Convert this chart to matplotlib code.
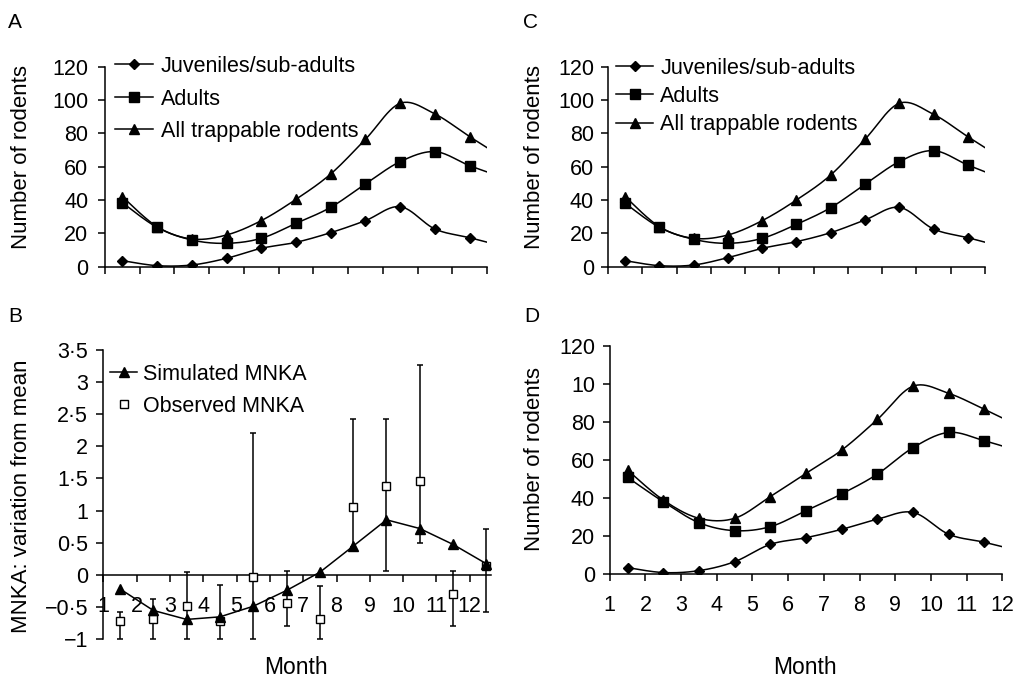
import numpy as np
import matplotlib
matplotlib.use('Agg')
from matplotlib import pyplot as plt

plt.rcParams['font.family'] = ['Liberation Sans', 'DejaVu Sans']

months = [1.5, 2.5, 3.5, 4.5, 5.5, 6.5, 7.5, 8.5, 9.5, 10.5, 11.5, 12.5]
month_ticks = list(range(1, 13))

# panel A
a_juv = [3.6, 0.6, 1.0, 5.0, 11.0, 14.6, 20.4, 27.6, 36.0, 22.6, 17.4, 12.0]
a_adu = [38.4, 23.6, 16.0, 14.0, 17.0, 26.0, 35.6, 49.6, 63.0, 69.0, 60.6, 53.2]
a_all = [42.0, 24.0, 16.6, 19.0, 27.6, 40.4, 55.6, 76.4, 98.0, 91.6, 78.0, 64.9]

# panel C
c_juv = [3.6, 0.6, 1.0, 5.4, 11.0, 15.0, 20.4, 28.0, 35.6, 22.6, 17.4, 12.0]
c_adu = [38.0, 23.6, 16.4, 14.0, 17.0, 25.4, 35.4, 49.4, 63.0, 69.6, 61.0, 52.9]
c_all = [42.0, 24.0, 17.0, 19.0, 27.6, 40.0, 55.0, 76.4, 98.0, 91.4, 78.0, 64.9]

# panel D
d_juv = [3.5, 0.9, 1.9, 6.6, 15.7, 19.2, 23.6, 28.9, 32.5, 21.0, 16.8, 12.1]
d_adu = [50.9, 38.1, 27.1, 22.9, 25.0, 33.4, 42.2, 52.6, 66.5, 74.5, 70.1, 64.5]
d_all = [54.7, 39.0, 29.4, 29.4, 40.8, 53.0, 65.2, 81.3, 98.8, 95.0, 86.6, 77.5]
d_ylabels = ['0', '20', '40', '60', '80', '10', '120']

# panel B
sim = [-0.22, -0.555, -0.695, -0.655, -0.49, -0.244, 0.04, 0.446, 0.856, 0.72, 0.472, 0.171]
obs = [-0.72, -0.686, -0.48, -0.727, -0.04, -0.445, -0.686, 1.053, 1.39, 1.455, -0.296, 0.14]
obs_hi = [-0.58, -0.37, 0.05, -0.16, 2.205, 0.056, -0.17, 2.42, 2.42, 3.27, 0.056, 0.716]
obs_lo = [-1.0, -1.0, -1.0, -1.0, -1.0, -0.79, -1.0, 0.44, 0.056, 0.49, -0.79, -0.58]
b_yticks = [-1, -0.5, 0, 0.5, 1, 1.5, 2, 2.5, 3, 3.5]
b_ylabels = ['\u22121', '\u22120\u00b75', '0', '0\u00b75', '1', '1\u00b75', '2', '2\u00b75', '3', '3\u00b75']

FS = 15.5
LW = 1.1


def smooth(x, y, n=25):
    # excel style smoothed line (bezier through the points)
    x = np.asarray(x, float)
    y = np.asarray(y, float)
    px = np.concatenate([[x[0]], x, [x[-1]]])
    py = np.concatenate([[y[0]], y, [y[-1]]])
    t = np.linspace(0, 1, n)
    xs, ys = [], []
    for i in range(len(x) - 1):
        p0 = np.array([px[i], py[i]])
        p1 = np.array([px[i + 1], py[i + 1]])
        p2 = np.array([px[i + 2], py[i + 2]])
        p3 = np.array([px[i + 3], py[i + 3]])
        c1 = p1 + (p2 - p0) / 6
        c2 = p2 - (p3 - p1) / 6
        b = ((1 - t) ** 3)[:, None] * p1 + (3 * (1 - t) ** 2 * t)[:, None] * c1 \
            + (3 * (1 - t) * t ** 2)[:, None] * c2 + (t ** 3)[:, None] * p2
        xs.append(b[:, 0])
        ys.append(b[:, 1])
    return np.concatenate(xs), np.concatenate(ys)


def style(ax, ypad):
    for s in ['top', 'right']:
        ax.spines[s].set_visible(False)
    for s in ['left', 'bottom']:
        ax.spines[s].set_linewidth(LW)
    ax.tick_params(direction='out', length=5, width=LW, labelsize=FS)
    ax.tick_params(axis='y', pad=ypad)
    ax.tick_params(axis='x', pad=10)


def rodents(ax, juv, adu, allr, ypad):
    for vals, mk, ms, lab in [(juv, 'D', 4.8, 'Juveniles/sub-adults'),
                              (adu, 's', 7, 'Adults'),
                              (allr, '^', 7.5, 'All trappable rodents')]:
        sx, sy = smooth(months, vals)
        ax.plot(sx, sy, color='black', lw=LW)
        ax.plot(months, vals, linestyle='none', marker=mk, ms=ms, color='black')
        ax.plot([], [], color='black', lw=LW, marker=mk, ms=ms, label=lab)
    ax.set_xlim(1, 12)
    ax.set_xticks(month_ticks)
    ax.set_ylim(0, 120)
    ax.set_yticks(range(0, 121, 20))
    style(ax, ypad)


fig = plt.figure(figsize=(10.16, 6.78), dpi=100)

axA = fig.add_axes([0.1033, 0.6067, 0.376, 0.295])
rodents(axA, a_juv, a_adu, a_all, 7)
axA.set_xticklabels([])
axA.legend(loc='upper left', bbox_to_anchor=(115 / 1016, 1 - 56 / 678),
           bbox_transform=fig.transFigure, frameon=False, fontsize=FS,
           borderpad=0, borderaxespad=0, handlelength=1.77, handletextpad=0.36,
           labelspacing=0.535)

axC = fig.add_axes([0.5984, 0.6067, 0.371, 0.295])
rodents(axC, c_juv, c_adu, c_all, 5)
axC.set_xticklabels([])
axC.legend(loc='upper left', bbox_to_anchor=(616 / 1016, 1 - 57.7 / 678),
           bbox_transform=fig.transFigure, frameon=False, fontsize=FS,
           borderpad=0, borderaxespad=0, handlelength=1.72, handletextpad=0.33,
           labelspacing=0.335)

axD = fig.add_axes([0.6001, 0.153, 0.3864, 0.337])
rodents(axD, d_juv, d_adu, d_all, 5.5)
axD.set_yticklabels(d_ylabels)

# panel B
axB = fig.add_axes([0.1017, 0.0575, 0.382, 0.4263])
lo = np.array(obs) - np.array(obs_lo)
hi = np.array(obs_hi) - np.array(obs)
axB.errorbar(months, obs, yerr=[lo, hi], fmt='none', ecolor='black',
             elinewidth=LW, capsize=2.5, capthick=LW, zorder=2)
axB.plot(months, obs, linestyle='none', marker='s', ms=5.3, mfc='white',
         mec='black', mew=1.0, zorder=3, label='Observed MNKA')
axB.plot(months, sim, color='black', lw=LW, marker='^', ms=6.7, zorder=4,
         label='Simulated MNKA')
axB.set_xlim(1, 12.65)
axB.set_ylim(-1, 3.5)
axB.set_xticks(month_ticks)
axB.set_yticks(b_yticks)
axB.set_yticklabels(b_ylabels)
style(axB, 6)
axB.spines['bottom'].set_position(('data', 0))
h, l = axB.get_legend_handles_labels()
axB.legend(h[::-1], l[::-1], loc='upper left', bbox_to_anchor=(110 / 1016, 1 - 364 / 678),
           bbox_transform=fig.transFigure, frameon=False, fontsize=FS,
           borderpad=0, borderaxespad=0, handlelength=1.26, handletextpad=0.28,
           labelspacing=0.49)

# axis titles
fig.text(22 / 1016, 1 - 157 / 678, 'Number of rodents', rotation=90, ha='center', va='center', fontsize=16)
fig.text(535 / 1016, 1 - 157 / 678, 'Number of rodents', rotation=90, ha='center', va='center', fontsize=16)
fig.text(22 / 1016, 1 - 496 / 678, 'MNKA: variation from mean', rotation=90, ha='center', va='center', fontsize=16)
fig.text(535 / 1016, 1 - 459 / 678, 'Number of rodents', rotation=90, ha='center', va='center', fontsize=16)
fig.text(296 / 1016, 1 - 667 / 678, 'Month', ha='center', va='center', fontsize=16.5)
fig.text(805 / 1016, 1 - 667 / 678, 'Month', ha='center', va='center', fontsize=16.5)

# panel letters
for letter, x, y in [('A', 8, 22), ('C', 523, 22), ('B', 8, 316), ('D', 524, 316)]:
    fig.text(x / 1016, 1 - y / 678, letter, ha='left', va='center', fontsize=15)

fig.savefig('out.png', dpi=100)
